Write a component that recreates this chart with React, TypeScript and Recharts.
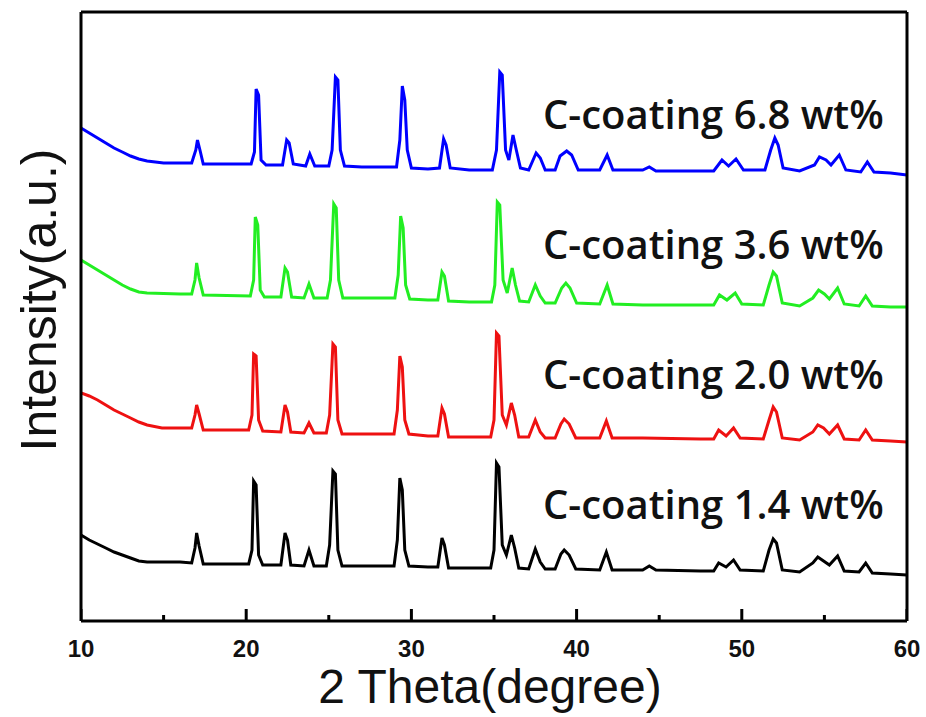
import { LineChart, Line, XAxis, YAxis } from "recharts";

// 2θ (degree) and intensity (a.u., stacked offsets)
const xTicks = [10, 20, 30, 40, 50, 60];
const minorTicks = [15, 25, 35, 45, 55];

const coat68: [number, number][] = [
  [10, 493], [10.5, 488], [11, 483], [11.5, 478], [12, 473], [12.5, 469], [13, 465], [13.5, 462], [14, 460], [15, 458], [16, 458],
  [16.7, 458], [16.95, 471], [17.05, 481], [17.2, 471], [17.4, 457],
  [20.3, 457], [20.5, 469], [20.6, 532], [20.75, 526], [20.9, 461], [21.2, 456],
  [22.2, 456], [22.45, 481], [22.6, 478], [22.85, 457],
  [23.6, 455], [23.85, 467], [24.15, 455],
  [25.0, 455], [25.2, 471], [25.4, 544], [25.55, 541], [25.7, 471], [25.95, 455],
  [27, 454], [28.5, 454],
  [29.1, 454], [29.3, 481], [29.45, 535], [29.6, 521], [29.75, 471], [30.0, 453],
  [31, 452],
  [31.7, 453], [31.95, 482], [32.1, 476], [32.35, 453],
  [33.5, 451], [34.9, 451], [35.15, 471], [35.35, 549], [35.5, 546], [35.7, 471], [35.9, 461], [36.15, 486], [36.35, 471], [36.6, 453],
  [37.1, 451], [37.55, 468], [37.8, 463], [38.1, 451],
  [38.7, 451], [39.0, 465], [39.4, 470], [39.7, 466], [40.1, 451],
  [41.4, 451], [41.85, 466], [42.2, 451],
  [44, 451], [44.4, 454], [44.8, 450], [47.5, 450],
  [48.3, 450], [48.8, 461], [49.2, 455], [49.65, 462], [50.1, 451],
  [51.4, 451], [51.75, 471], [52.0, 483], [52.2, 476], [52.5, 453],
  [53.5, 450], [54.4, 456], [54.7, 464], [55.1, 461], [55.4, 456], [55.9, 466], [56.3, 451],
  [57.2, 449], [57.6, 459], [58.0, 449], [59, 448], [60, 446],
];

const coat36: [number, number][] = [
  [10, 361], [10.5, 356], [11, 351], [11.5, 346], [12, 341], [12.5, 336], [13, 332], [13.5, 329], [14, 328], [16, 327],
  [16.7, 327], [16.9, 341], [17.0, 358], [17.15, 343], [17.4, 326],
  [20.25, 325], [20.45, 341], [20.55, 404], [20.7, 396], [20.85, 331], [21.1, 324],
  [22.1, 324], [22.35, 353], [22.5, 349], [22.75, 324],
  [23.5, 323], [23.8, 337], [24.1, 323],
  [24.9, 323], [25.1, 341], [25.3, 417], [25.45, 413], [25.6, 341], [25.85, 323],
  [27, 323], [28.6, 323],
  [29.0, 323], [29.2, 346], [29.35, 405], [29.5, 393], [29.65, 336], [29.9, 322],
  [31, 321],
  [31.6, 321], [31.85, 349], [32.0, 345], [32.25, 320],
  [33.5, 319], [34.85, 319], [35.05, 336], [35.2, 419], [35.35, 416], [35.55, 341], [35.8, 328], [36.1, 353], [36.3, 336], [36.55, 320],
  [37.1, 319], [37.5, 336], [37.8, 325], [38.1, 318],
  [38.7, 318], [39.1, 333], [39.35, 338], [39.6, 333], [40.0, 318],
  [41.4, 317], [41.85, 336], [42.2, 317],
  [44, 316], [47.5, 316],
  [48.3, 316], [48.65, 326], [49.1, 321], [49.6, 328], [50.0, 317],
  [51.3, 316], [51.65, 336], [51.9, 349], [52.1, 345], [52.45, 318],
  [53.5, 315], [54.3, 323], [54.65, 331], [55.0, 327], [55.3, 322], [55.8, 333], [56.2, 317],
  [57.1, 315], [57.5, 325], [57.9, 315], [59, 314], [60, 314],
];

const coat20: [number, number][] = [
  [10, 228], [10.5, 225], [11, 221], [11.5, 216], [12, 211], [12.5, 207], [13, 203], [13.5, 199], [14, 196], [14.9, 193], [16, 193],
  [16.7, 193], [16.9, 206], [17.0, 216], [17.15, 207], [17.4, 191],
  [20.15, 191], [20.35, 206], [20.45, 267], [20.6, 265], [20.75, 201], [21.0, 190],
  [22.1, 189], [22.35, 216], [22.5, 209], [22.7, 189],
  [23.5, 188], [23.8, 198], [24.1, 188],
  [24.85, 188], [25.05, 206], [25.25, 277], [25.4, 274], [25.55, 201], [25.8, 187],
  [27, 187], [28.5, 187],
  [28.95, 187], [29.15, 211], [29.3, 265], [29.45, 254], [29.6, 201], [29.85, 187],
  [31, 185],
  [31.6, 185], [31.85, 213], [32.0, 207], [32.25, 184],
  [33.5, 184], [34.8, 184], [35.0, 201], [35.15, 288], [35.3, 285], [35.5, 206], [35.75, 196], [36.05, 218], [36.25, 206], [36.5, 184],
  [37.1, 184], [37.5, 201], [37.8, 189], [38.1, 183],
  [38.7, 183], [39.05, 197], [39.25, 202], [39.55, 197], [39.95, 183],
  [41.4, 183], [41.8, 200], [42.15, 183],
  [44, 183], [47.5, 182],
  [48.3, 182], [48.6, 191], [49.05, 185], [49.5, 193], [49.9, 183],
  [51.3, 182], [51.65, 201], [51.9, 214], [52.1, 209], [52.45, 183],
  [53.5, 181], [54.3, 189], [54.6, 196], [54.95, 193], [55.3, 187], [55.8, 196], [56.2, 182],
  [57.1, 181], [57.5, 191], [57.9, 181], [59, 180], [60, 179],
];

const coat14: [number, number][] = [
  [10, 86], [10.5, 81], [11, 77], [11.5, 73], [12, 69], [12.5, 66], [13, 63], [13.5, 60], [14, 59], [16, 59],
  [16.7, 58], [16.9, 73], [17.0, 88], [17.15, 75], [17.4, 57],
  [20.15, 57], [20.35, 71], [20.45, 140], [20.6, 136], [20.75, 66], [21.0, 56],
  [22.1, 56], [22.35, 88], [22.5, 81], [22.7, 56],
  [23.5, 55], [23.8, 71], [24.1, 55],
  [24.85, 55], [25.05, 76], [25.25, 150], [25.4, 147], [25.55, 71], [25.8, 55],
  [27, 55], [28.5, 55],
  [28.95, 55], [29.15, 81], [29.3, 143], [29.45, 131], [29.6, 71], [29.85, 55],
  [31, 54],
  [31.6, 54], [31.85, 83], [32.0, 76], [32.25, 53],
  [33.5, 53], [34.8, 53], [35.0, 71], [35.15, 158], [35.3, 154], [35.5, 76], [35.75, 66], [36.05, 86], [36.25, 73], [36.5, 53],
  [37.1, 52], [37.5, 72], [37.8, 59], [38.1, 52],
  [38.7, 52], [39.05, 67], [39.25, 71], [39.55, 66], [39.95, 52],
  [41.4, 51], [41.8, 69], [42.15, 51],
  [44, 51], [44.4, 55], [44.8, 51], [47.5, 50],
  [48.3, 50], [48.6, 58], [49.05, 54], [49.5, 61], [49.9, 51],
  [51.3, 50], [51.65, 71], [51.9, 82], [52.1, 78], [52.45, 51],
  [53.5, 49], [54.3, 58], [54.6, 64], [54.95, 60], [55.3, 56], [55.8, 65], [56.2, 50],
  [57.1, 49], [57.5, 58], [57.9, 48], [59, 47], [60, 46],
];

const seriesNames = ["C-coating 6.8 wt%", "C-coating 3.6 wt%", "C-coating 2.0 wt%", "C-coating 1.4 wt%"];
const seriesColors = ["#0000ff", "#22ee22", "#ee1111", "#000000"];
const seriesData = [coat68, coat36, coat20, coat14];

const toPoints = (arr: [number, number][]) => arr.map(([t, i]) => ({ t, i }));

// inward tick marks as short vertical segments, broken apart by nulls
const tickSegments = (values: number[], len: number) =>
  values.flatMap((t) => [
    { t, i: 0 },
    { t, i: len },
    { t, i: null },
  ]);

function BottomTick(props: any) {
  const { x, y, payload } = props;
  return (
    <text
      x={x}
      y={y + 36}
      textAnchor="middle"
      fontFamily="'Liberation Sans', Arial, sans-serif"
      fontWeight="bold"
      fontSize={24}
      fill="#111"
    >
      {payload.value}
    </text>
  );
}

export default function App() {
  return (
    <div style={{ position: "absolute", left: 0, top: 0, width: 926, height: 717, background: "#fff" }}>
      <LineChart width={926} height={717} margin={{ top: 2, right: 9, left: 71, bottom: 56 }}>
        <XAxis
          dataKey="t"
          type="number"
          domain={[10, 60]}
          ticks={xTicks}
          height={40}
          tickSize={0}
          tickMargin={0}
          tickLine={false}
          tick={<BottomTick />}
          interval={0}
          axisLine={{ stroke: "#000", strokeWidth: 3 }}
          allowDataOverflow
        />
        <XAxis
          xAxisId="top"
          orientation="top"
          type="number"
          domain={[10, 60]}
          height={10}
          tick={false}
          tickLine={false}
          axisLine={{ stroke: "#000", strokeWidth: 3 }}
        />
        <YAxis
          type="number"
          domain={[0, 609]}
          width={10}
          tick={false}
          tickLine={false}
          axisLine={{ stroke: "#000", strokeWidth: 3 }}
          allowDataOverflow
        />
        <YAxis
          yAxisId="right"
          orientation="right"
          type="number"
          domain={[0, 609]}
          width={10}
          tick={false}
          tickLine={false}
          axisLine={{ stroke: "#000", strokeWidth: 3 }}
        />
        <Line
          data={tickSegments(xTicks, 12)}
          dataKey="i"
          stroke="#000"
          strokeWidth={3}
          dot={false}
          connectNulls={false}
          legendType="none"
          isAnimationActive={false}
        />
        <Line
          data={tickSegments(minorTicks, 6)}
          dataKey="i"
          stroke="#000"
          strokeWidth={3}
          dot={false}
          connectNulls={false}
          legendType="none"
          isAnimationActive={false}
        />
        {seriesData.map((d, k) => (
          <Line
            key={seriesNames[k]}
            data={toPoints(d)}
            dataKey="i"
            name={seriesNames[k]}
            type="linear"
            stroke={seriesColors[k]}
            strokeWidth={3}
            dot={false}
            isAnimationActive={false}
          />
        ))}
      </LineChart>
      <svg width={926} height={717} style={{ position: "absolute", left: 0, top: 0, pointerEvents: "none" }}>
        {seriesNames.map((n, k) => (
          <text
            key={n}
            x={543}
            y={129 + k * 130}
            fontFamily="'Open Sans', sans-serif"
            fontWeight={600}
            fontSize={40}
            fill="#111"
          >
            {n}
          </text>
        ))}
        <text
          x={490}
          y={703}
          textAnchor="middle"
          fontFamily="'Liberation Sans', Arial, sans-serif"
          fontSize={48}
          fill="#111"
        >
          2 Theta(degree)
        </text>
        <text
          x={56}
          y={300}
          textAnchor="middle"
          transform="rotate(-90 56 300)"
          fontFamily="'Liberation Sans', Arial, sans-serif"
          fontSize={50}
          fill="#111"
        >
          Intensity(a.u.)
        </text>
      </svg>
    </div>
  );
}
